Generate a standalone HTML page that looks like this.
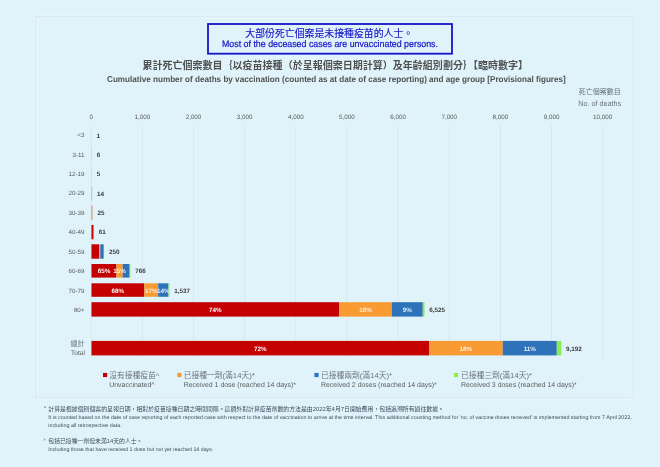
<!DOCTYPE html>
<html lang="zh-Hant">
<head>
<meta charset="utf-8">
<title>Cumulative number of deaths by vaccination and age group</title>
<style>
html,body{margin:0;padding:0;}
body{width:660px;height:467px;overflow:hidden;background:#E0F3FB;font-family:"Liberation Sans",sans-serif;position:relative;}
#c{position:absolute;left:0;top:0;width:660px;height:467px;overflow:hidden;}
svg{position:absolute;left:0;top:0;will-change:transform;}
.t{position:absolute;white-space:nowrap;line-height:1;font-family:"Liberation Sans",sans-serif;}
.z{position:absolute;white-space:nowrap;line-height:1;color:transparent;overflow:hidden;font-family:"Liberation Sans",sans-serif;}
</style>
</head>
<body>
<div id="c">
<svg width="660" height="467" viewBox="0 0 660 467">
<rect x="35.5" y="16.5" width="598" height="381.2" fill="none" stroke="#DAE9F1" stroke-width="1.2"/>
<rect x="34" y="15" width="601" height="384.2" fill="none" stroke="#E8F6FC" stroke-width="1"/>
<rect x="37.2" y="18.2" width="594.6" height="377.8" fill="none" stroke="#E6F5FC" stroke-width="0.8"/>
<rect x="208" y="24" width="244" height="29.7" fill="none" stroke="#1515C8" stroke-width="1.8"/>
<text x="245.35" y="36.76" font-size="9.90" fill="#1515C8" stroke="#1515C8" stroke-width="0.14" font-family="'Liberation Sans','Noto Sans CJK TC',sans-serif">大部份死亡個案是未接種疫苗的人士。</text>
<text x="142.42" y="69.31" font-size="10.03" fill="#505050" font-weight="bold" font-family="'Liberation Sans','Noto Sans CJK TC',sans-serif">累計死亡個案數目｛以疫苗接種（於呈報個案日期計算）及年齡組別劃分｝【臨時數字】</text>
<text x="578.75" y="93.66" font-size="7.00" fill="#687078" font-family="'Liberation Sans','Noto Sans CJK TC',sans-serif">死亡個案數目</text>
<rect x="90.75" y="125.5" width="0.9" height="232" fill="#D7E5ED"/>
<rect x="141.90" y="125.5" width="0.9" height="232" fill="#D7E5ED"/>
<rect x="193.05" y="125.5" width="0.9" height="232" fill="#D7E5ED"/>
<rect x="244.20" y="125.5" width="0.9" height="232" fill="#D7E5ED"/>
<rect x="295.35" y="125.5" width="0.9" height="232" fill="#D7E5ED"/>
<rect x="346.50" y="125.5" width="0.9" height="232" fill="#D7E5ED"/>
<rect x="397.65" y="125.5" width="0.9" height="232" fill="#D7E5ED"/>
<rect x="448.80" y="125.5" width="0.9" height="232" fill="#D7E5ED"/>
<rect x="499.95" y="125.5" width="0.9" height="232" fill="#D7E5ED"/>
<rect x="551.10" y="125.5" width="0.9" height="232" fill="#D7E5ED"/>
<rect x="602.25" y="125.5" width="0.9" height="232" fill="#D7E5ED"/>
<text x="70.50" y="346.40" font-size="7.10" fill="#6E757B" font-family="'Liberation Sans','Noto Sans CJK TC',sans-serif">總計</text>
<rect x="91.50" y="128.20" width="0.20" height="14.20" fill="#C9D5DC"/>
<rect x="91.50" y="147.55" width="0.40" height="14.20" fill="#C4CDD3"/>
<rect x="91.50" y="166.90" width="0.40" height="14.20" fill="#C4CDD3"/>
<rect x="91.50" y="186.25" width="0.70" height="14.20" fill="#AEB4BA"/>
<rect x="91.50" y="205.60" width="0.60" height="14.20" fill="#BE7E62"/>
<rect x="92.10" y="205.60" width="0.60" height="14.20" fill="#D6AE8C"/>
<rect x="91.50" y="225.00" width="1.90" height="14.25" fill="#C40000"/>
<rect x="93.40" y="225.00" width="0.30" height="14.25" fill="#F99B33"/>
<rect x="93.70" y="225.00" width="0.30" height="14.25" fill="#2E72BA"/>
<rect x="91.50" y="244.30" width="7.60" height="14.40" fill="#C40000"/>
<rect x="99.10" y="244.30" width="1.20" height="14.40" fill="#F99B33"/>
<rect x="100.30" y="244.30" width="3.45" height="14.40" fill="#2E72BA"/>
<rect x="103.75" y="244.30" width="0.35" height="14.40" fill="#8CEB4E"/>
<rect x="91.50" y="264.00" width="24.90" height="13.60" fill="#C40000"/>
<rect x="116.40" y="264.00" width="6.30" height="13.60" fill="#F99B33"/>
<rect x="122.70" y="264.00" width="6.90" height="13.60" fill="#2E72BA"/>
<rect x="129.60" y="264.00" width="0.80" height="13.60" fill="#8CEB4E"/>
<rect x="91.50" y="283.30" width="52.75" height="13.50" fill="#C40000"/>
<rect x="144.25" y="283.30" width="13.95" height="13.50" fill="#F99B33"/>
<rect x="158.20" y="283.30" width="10.30" height="13.50" fill="#2E72BA"/>
<rect x="168.50" y="283.30" width="0.90" height="13.50" fill="#8CEB4E"/>
<rect x="91.50" y="302.20" width="247.75" height="14.40" fill="#C40000"/>
<rect x="339.25" y="302.20" width="52.50" height="14.40" fill="#F99B33"/>
<rect x="391.75" y="302.20" width="31.00" height="14.40" fill="#2E72BA"/>
<rect x="422.75" y="302.20" width="1.75" height="14.40" fill="#8CEB4E"/>
<rect x="91.50" y="340.90" width="337.50" height="14.50" fill="#C40000"/>
<rect x="429.00" y="340.90" width="73.75" height="14.50" fill="#F99B33"/>
<rect x="502.75" y="340.90" width="54.05" height="14.50" fill="#2E72BA"/>
<rect x="556.80" y="340.90" width="4.50" height="14.50" fill="#8CEB4E"/>
<rect x="103.00" y="372.9" width="4.2" height="4.2" fill="#C40000"/>
<text x="109.25" y="377.64" font-size="7.75" fill="#6E747A" font-family="'Liberation Sans','Noto Sans CJK TC',sans-serif">沒有接種疫苗^</text>
<rect x="177.30" y="372.9" width="4.2" height="4.2" fill="#F99B33"/>
<text x="183.75" y="377.64" font-size="7.75" fill="#6E747A" font-family="'Liberation Sans','Noto Sans CJK TC',sans-serif">已接種一劑(滿14天)*</text>
<rect x="314.40" y="372.9" width="4.2" height="4.2" fill="#2E72BA"/>
<text x="321.00" y="377.64" font-size="7.75" fill="#6E747A" font-family="'Liberation Sans','Noto Sans CJK TC',sans-serif">已接種兩劑(滿14天)*</text>
<rect x="454.00" y="372.9" width="4.2" height="4.2" fill="#8CEB4E"/>
<text x="461.00" y="377.64" font-size="7.75" fill="#6E747A" font-family="'Liberation Sans','Noto Sans CJK TC',sans-serif">已接種三劑(滿14天)*</text>
<text x="48.30" y="410.53" font-size="5.88" fill="#3F4B5C" font-family="'Liberation Sans','Noto Sans CJK TC',sans-serif">計算是根據個別個案的呈報日期，相對於疫苗接種日期之時間間隔。這額外對計算疫苗劑數的方法是由2022年4月7日開始應用，包括追溯所有過往數據。</text>
<text x="48.30" y="442.72" font-size="5.85" fill="#3F4B5C" font-family="'Liberation Sans','Noto Sans CJK TC',sans-serif">包括已接種一劑但未滿14天的人士。</text>
<g font-family="Liberation Sans, sans-serif" text-rendering="geometricPrecision">
<text x="330.00" y="47" font-size="9.40" fill="#1515C8" text-anchor="middle" stroke="#1515C8" stroke-width="0.22" textLength="216.00" lengthAdjust="spacingAndGlyphs">Most of the deceased cases are unvaccinated persons.</text>
<text x="336.40" y="82" font-size="8.50" fill="#505050" text-anchor="middle" font-weight="bold" textLength="458.75" lengthAdjust="spacingAndGlyphs">Cumulative number of deaths by vaccination (counted as at date of case reporting) and age group [Provisional figures]</text>
<text x="621.25" y="106" font-size="7.60" fill="#687078" text-anchor="end" textLength="43.00" lengthAdjust="spacingAndGlyphs">No. of deaths</text>
<text x="91.20" y="119" font-size="6.29" fill="#595959" text-anchor="middle">0</text>
<text x="142.35" y="119" font-size="6.29" fill="#595959" text-anchor="middle">1,000</text>
<text x="193.50" y="119" font-size="6.29" fill="#595959" text-anchor="middle">2,000</text>
<text x="244.65" y="119" font-size="6.29" fill="#595959" text-anchor="middle">3,000</text>
<text x="295.80" y="119" font-size="6.29" fill="#595959" text-anchor="middle">4,000</text>
<text x="346.95" y="119" font-size="6.29" fill="#595959" text-anchor="middle">5,000</text>
<text x="398.10" y="119" font-size="6.29" fill="#595959" text-anchor="middle">6,000</text>
<text x="449.25" y="119" font-size="6.29" fill="#595959" text-anchor="middle">7,000</text>
<text x="500.40" y="119" font-size="6.29" fill="#595959" text-anchor="middle">8,000</text>
<text x="551.55" y="119" font-size="6.29" fill="#595959" text-anchor="middle">9,000</text>
<text x="602.70" y="119" font-size="6.29" fill="#595959" text-anchor="middle">10,000</text>
<text x="84.50" y="137" font-size="6.25" fill="#595959" text-anchor="end">&lt;3</text>
<text x="84.50" y="157" font-size="6.25" fill="#595959" text-anchor="end">3-11</text>
<text x="84.50" y="176" font-size="6.25" fill="#595959" text-anchor="end">12-19</text>
<text x="84.50" y="195" font-size="6.25" fill="#595959" text-anchor="end">20-29</text>
<text x="84.50" y="215" font-size="6.25" fill="#595959" text-anchor="end">30-39</text>
<text x="84.50" y="234" font-size="6.25" fill="#595959" text-anchor="end">40-49</text>
<text x="84.50" y="254" font-size="6.25" fill="#595959" text-anchor="end">50-59</text>
<text x="84.50" y="273" font-size="6.25" fill="#595959" text-anchor="end">60-69</text>
<text x="84.50" y="293" font-size="6.25" fill="#595959" text-anchor="end">70-79</text>
<text x="84.50" y="312" font-size="6.25" fill="#595959" text-anchor="end">80+</text>
<text x="84.90" y="355" font-size="6.55" fill="#595959" text-anchor="end">Total</text>
<text x="96.50" y="138" font-size="6.29" fill="#3A3A3A" font-weight="bold">1</text>
<text x="96.70" y="157" font-size="6.29" fill="#3A3A3A" font-weight="bold">6</text>
<text x="96.70" y="176" font-size="6.29" fill="#3A3A3A" font-weight="bold">5</text>
<text x="97.00" y="196" font-size="6.29" fill="#3A3A3A" font-weight="bold">14</text>
<text x="97.50" y="215" font-size="6.29" fill="#3A3A3A" font-weight="bold">25</text>
<text x="98.80" y="234" font-size="6.29" fill="#3A3A3A" font-weight="bold">61</text>
<text x="108.90" y="254" font-size="6.29" fill="#3A3A3A" font-weight="bold">250</text>
<text x="103.95" y="273" font-size="6.29" fill="#FFFFFF" text-anchor="middle" font-weight="bold">65%</text>
<text x="119.55" y="273" font-size="6.29" fill="#FFF1E2" text-anchor="middle" font-weight="bold">15%</text>
<text x="135.20" y="273" font-size="6.29" fill="#3A3A3A" font-weight="bold">766</text>
<text x="117.88" y="293" font-size="6.29" fill="#FFFFFF" text-anchor="middle" font-weight="bold">68%</text>
<text x="151.22" y="293" font-size="6.29" fill="#FFF1E2" text-anchor="middle" font-weight="bold">17%</text>
<text x="163.35" y="293" font-size="6.29" fill="#E4EEF9" text-anchor="middle" font-weight="bold">14%</text>
<text x="174.20" y="293" font-size="6.29" fill="#3A3A3A" font-weight="bold">1,537</text>
<text x="215.38" y="312" font-size="6.29" fill="#FFFFFF" text-anchor="middle" font-weight="bold">74%</text>
<text x="365.50" y="312" font-size="6.29" fill="#FFF1E2" text-anchor="middle" font-weight="bold">16%</text>
<text x="407.25" y="312" font-size="6.29" fill="#E4EEF9" text-anchor="middle" font-weight="bold">9%</text>
<text x="429.30" y="312" font-size="6.29" fill="#3A3A3A" font-weight="bold">6,525</text>
<text x="260.25" y="351" font-size="6.29" fill="#FFFFFF" text-anchor="middle" font-weight="bold">72%</text>
<text x="465.88" y="351" font-size="6.29" fill="#FFF1E2" text-anchor="middle" font-weight="bold">18%</text>
<text x="529.77" y="351" font-size="6.29" fill="#E4EEF9" text-anchor="middle" font-weight="bold">11%</text>
<text x="566.10" y="351" font-size="6.29" fill="#3A3A3A" font-weight="bold">9,192</text>
<text x="109.25" y="387" font-size="6.95" fill="#595959">Unvaccinated^</text>
<text x="183.75" y="387" font-size="6.95" fill="#595959">Received 1 dose (reached 14 days)*</text>
<text x="321.00" y="387" font-size="6.95" fill="#595959">Received 2 doses (reached 14 days)*</text>
<text x="461.00" y="387" font-size="6.95" fill="#595959">Received 3 doses (reached 14 days)*</text>
<text x="44.00" y="410" font-size="5.60" fill="#3F4B5C">*</text>
<text x="48.30" y="419" font-size="5.34" fill="#3F4B5C" textLength="583.40" lengthAdjust="spacingAndGlyphs">It is counted based on the date of case reporting of each reported case with respect to the date of vaccination to arrive at the time interval. This additional counting method for 'no. of vaccine doses received' is implemented starting from 7 April 2022,</text>
<text x="48.30" y="427" font-size="5.34" fill="#3F4B5C" textLength="73.40" lengthAdjust="spacingAndGlyphs">including all retrospective data.</text>
<text x="43.60" y="442" font-size="4.60" fill="#3F4B5C">^</text>
<text x="48.30" y="451" font-size="5.34" fill="#3F4B5C" textLength="165.00" lengthAdjust="spacingAndGlyphs">Including those that have received 1 dose but not yet reached 14 days.</text>
</g>
</svg>
<span class="z" style="left:245.35px;top:28.05px;width:168.30px;height:9.90px;font-size:9.90px">大部份死亡個案是未接種疫苗的人士。</span>
<span class="z" style="left:142.42px;top:60.48px;width:391.17px;height:10.03px;font-size:10.03px">累計死亡個案數目｛以疫苗接種（於呈報個案日期計算）及年齡組別劃分｝【臨時數字】</span>
<span class="z" style="left:578.75px;top:87.50px;width:42.00px;height:7.00px;font-size:7.00px">死亡個案數目</span>
<span class="z" style="left:70.50px;top:340.15px;width:14.20px;height:7.10px;font-size:7.10px">總計</span>
<span class="z" style="left:109.25px;top:370.82px;width:50.96px;height:7.75px;font-size:7.75px">沒有接種疫苗^</span>
<span class="z" style="left:183.75px;top:370.82px;width:71.35px;height:7.75px;font-size:7.75px">已接種一劑(滿14天)*</span>
<span class="z" style="left:321.00px;top:370.82px;width:71.35px;height:7.75px;font-size:7.75px">已接種兩劑(滿14天)*</span>
<span class="z" style="left:461.00px;top:370.82px;width:71.35px;height:7.75px;font-size:7.75px">已接種三劑(滿14天)*</span>
<span class="z" style="left:48.30px;top:405.36px;width:395.56px;height:5.88px;font-size:5.88px">計算是根據個別個案的呈報日期，相對於疫苗接種日期之時間間隔。這額外對計算疫苗劑數的方法是由2022年4月7日開始應用，包括追溯所有過往數據。</span>
<span class="z" style="left:48.30px;top:437.57px;width:94.24px;height:5.85px;font-size:5.85px">包括已接種一劑但未滿14天的人士。</span>
</div>
</body>
</html>
